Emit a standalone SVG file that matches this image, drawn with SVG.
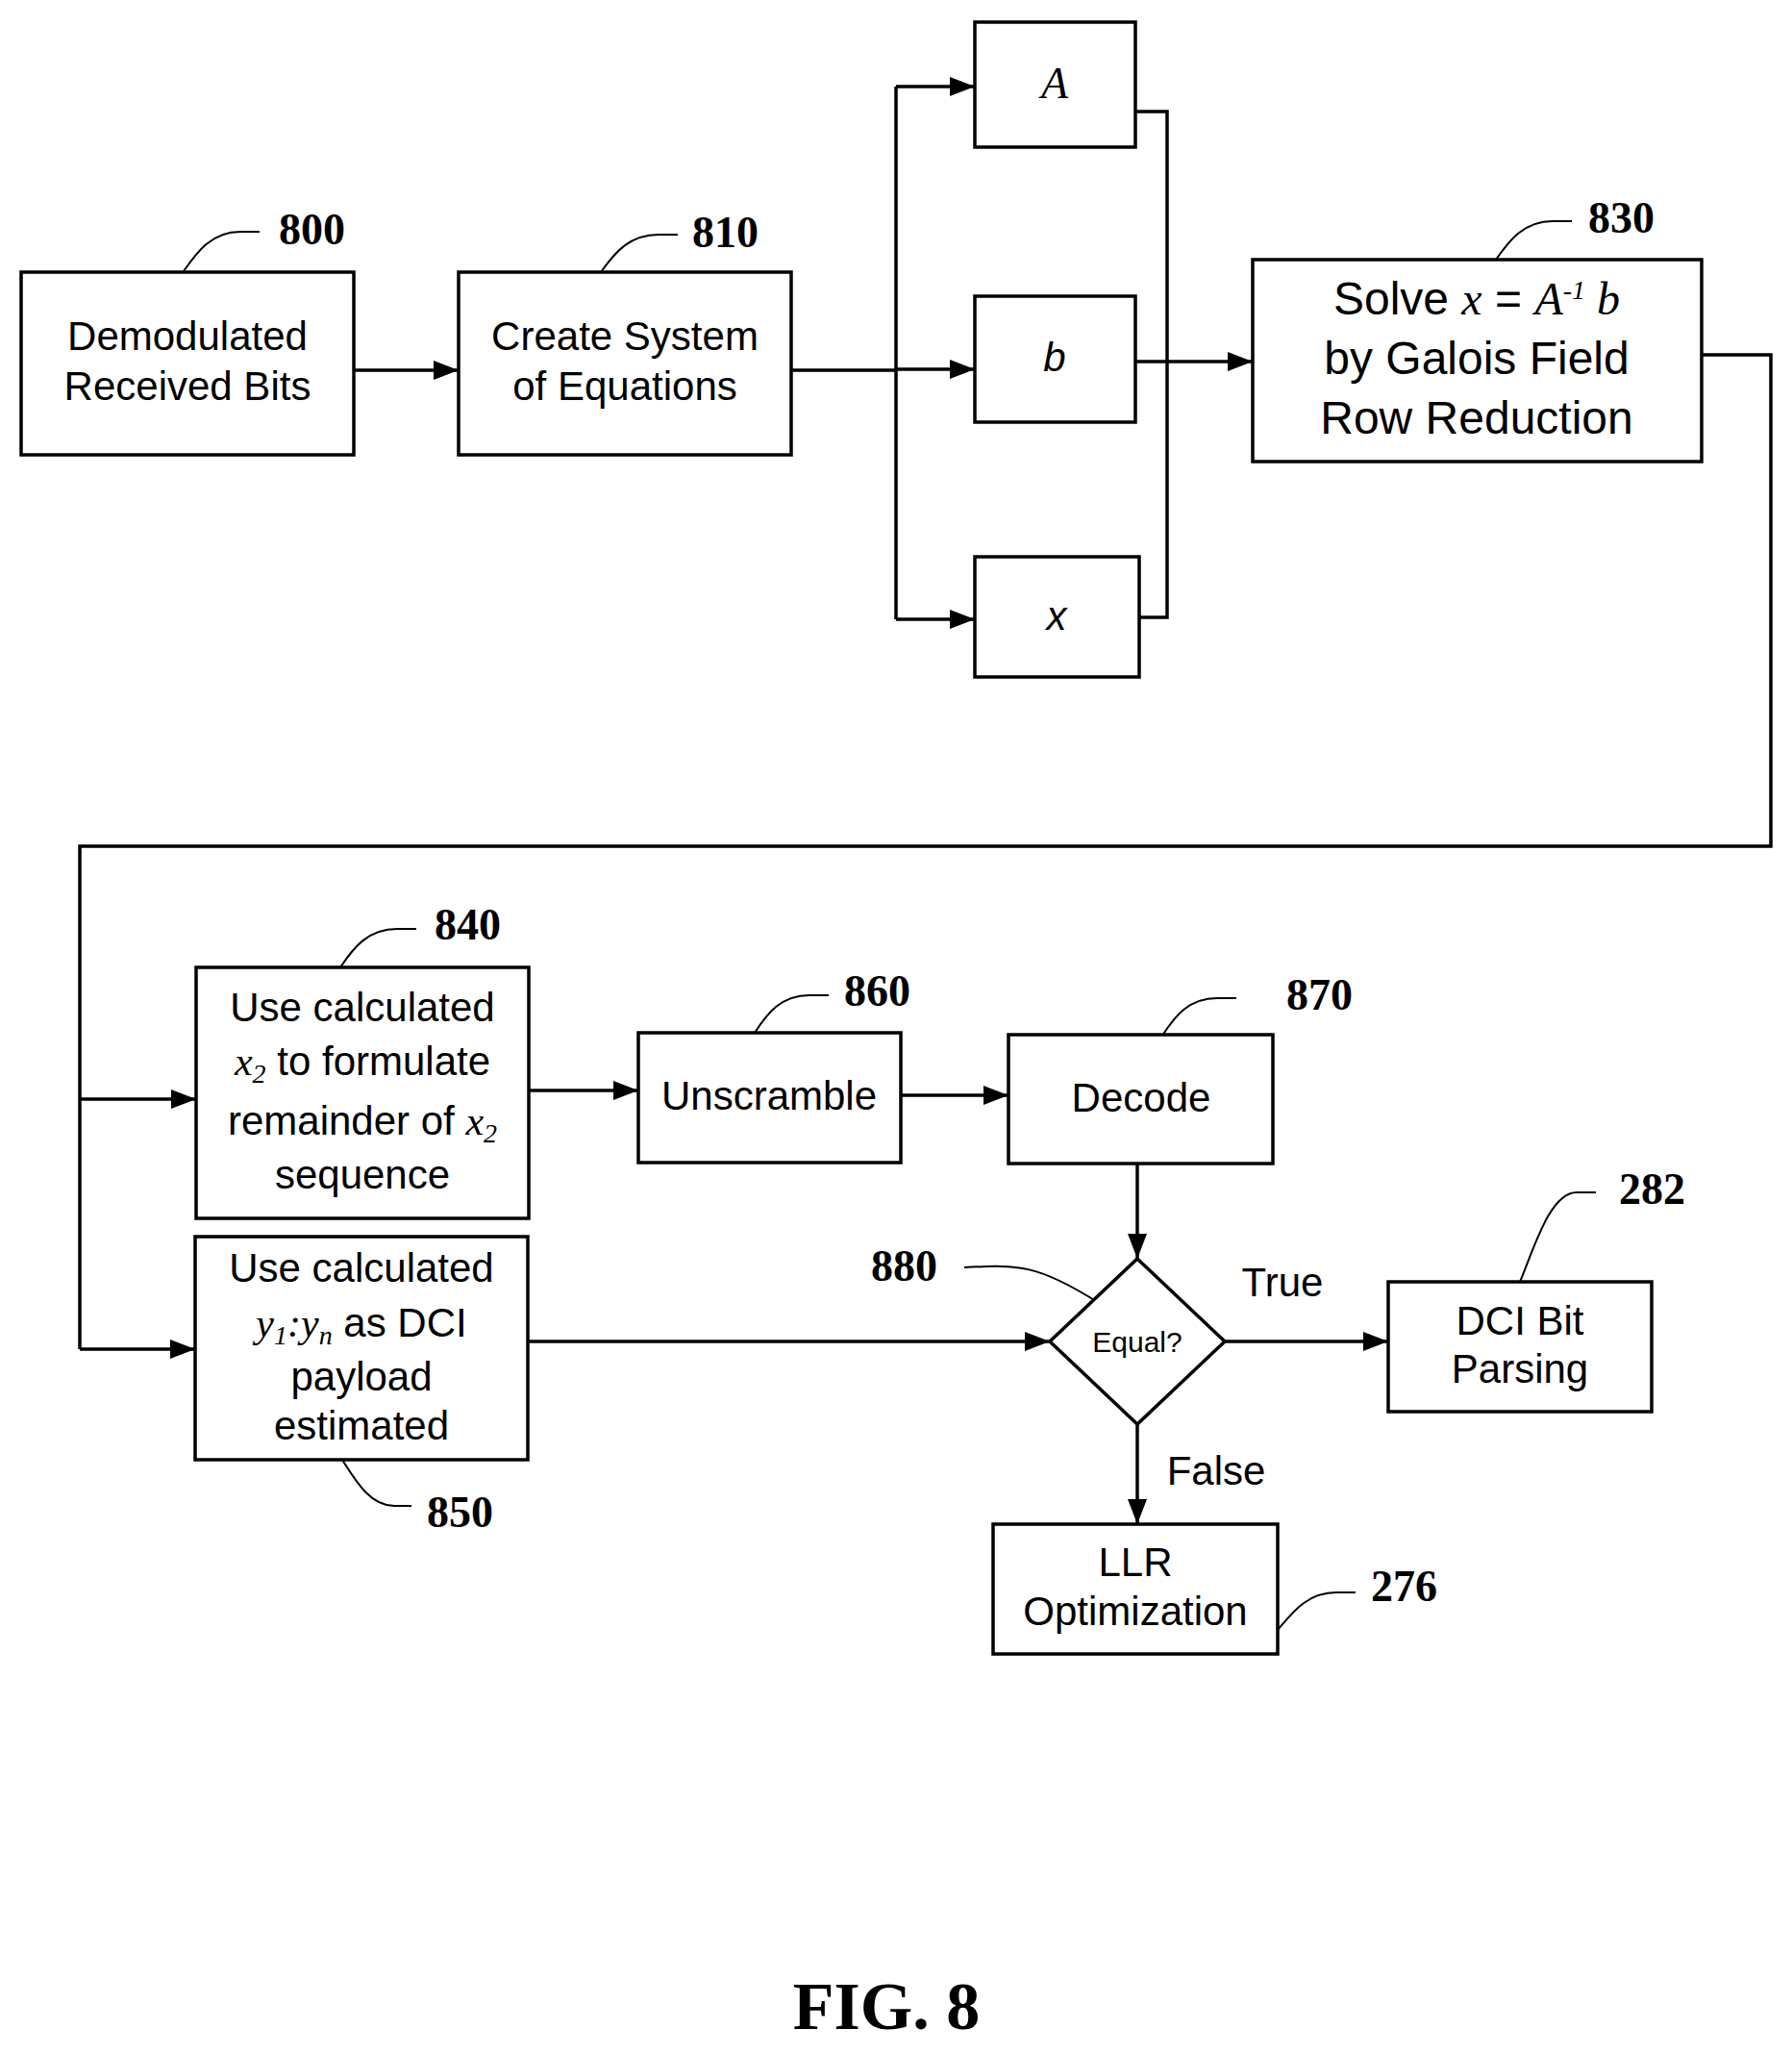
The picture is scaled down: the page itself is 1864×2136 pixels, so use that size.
<svg xmlns="http://www.w3.org/2000/svg" width="1864" height="2136" viewBox="0 0 1864 2136">
<defs>
<marker id="ah" markerWidth="26" markerHeight="20" refX="26" refY="10" orient="auto" markerUnits="userSpaceOnUse" viewBox="0 0 26 20"><path d="M0,0 L26,10 L0,20 z" fill="#000"/></marker>
</defs>
<style>
.b{fill:#fff;stroke:#000;stroke-width:3.5}
.t{font-family:"Liberation Sans",Arial,sans-serif;font-size:42px;text-anchor:middle;fill:#000}
.m{font-family:"Liberation Serif","Times New Roman",serif;font-style:italic}
.n{font-family:"Liberation Serif","Times New Roman",serif;font-weight:bold;font-size:46px;fill:#000}
.c{fill:none;stroke:#000;stroke-width:3.5}
.l{fill:none;stroke:#000;stroke-width:2}
.a{marker-end:url(#ah)}
</style>
<rect width="1864" height="2136" fill="#fff"/>
<g id="connectors">
<path class="c a" d="M368,385 H477"/>
<path class="c" d="M823,385 H932"/>
<path class="c" d="M932,90 V644"/>
<path class="c a" d="M932,90 H1014"/>
<path class="c a" d="M932,384 H1014"/>
<path class="c a" d="M932,644 H1014"/>
<path class="c" d="M1181,116 H1214 V642 H1185"/>
<path class="c a" d="M1181,376 H1303"/>
<path class="c" d="M1770,369 H1842 V880 H83 V1403"/>
<path class="c a" d="M83,1143 H204"/>
<path class="c a" d="M83,1403 H203"/>
<path class="c a" d="M550,1134 H664"/>
<path class="c a" d="M937,1139 H1049"/>
<path class="c a" d="M1183,1210 V1309"/>
<path class="c a" d="M549,1395 H1092"/>
<path class="c a" d="M1274,1395 H1444"/>
<path class="c a" d="M1183,1481 V1585"/>
<path class="l" d="M191,282 C205,262 220,241 250,241 H270"/>
<path class="l" d="M625,283 C640,262 655,244 685,244 H705"/>
<path class="l" d="M1556,270 C1570,250 1585,230 1615,230 H1635"/>
<path class="l" d="M354,1006 C368,985 383,966 413,966 H433"/>
<path class="l" d="M785,1074 C798,1054 812,1035 842,1035 H862"/>
<path class="l" d="M1209,1077 C1222,1057 1236,1038 1266,1038 H1286"/>
<path class="l" d="M1581,1333 C1595,1300 1612,1240 1640,1240 H1660"/>
<path class="l" d="M1003,1318 C1060,1315 1080,1315 1143,1355"/>
<path class="l" d="M356,1518 C370,1540 385,1566 410,1566 H428"/>
<path class="l" d="M1329,1695 C1345,1676 1360,1656 1390,1656 H1410"/>
</g>
<g id="n800"><rect class="b" x="22" y="283" width="346" height="190"/><text class="t" x="195" y="364">Demodulated</text><text class="t" x="195" y="416">Received Bits</text><text class="n" x="290" y="254">800</text></g>
<g id="n810"><rect class="b" x="477" y="283" width="346" height="190"/><text class="t" x="650" y="364">Create System</text><text class="t" x="650" y="416">of Equations</text><text class="n" x="720" y="257">810</text></g>
<g id="nA"><rect class="b" x="1014" y="23" width="167" height="130"/><text class="t m" x="1097" y="102" style="font-size:46px">A</text></g>
<g id="nb"><rect class="b" x="1014" y="308" width="167" height="131"/><text class="t" x="1097" y="386" style="font-style:italic">b</text></g>
<g id="nx"><rect class="b" x="1014" y="579" width="171" height="125"/><text class="t" x="1099" y="655" style="font-style:italic">x</text></g>
<g id="n830"><rect class="b" x="1303" y="270" width="467" height="210"/><text class="t" x="1536" y="327" style="font-size:48px">Solve <tspan class="m">x</tspan> = <tspan class="m">A</tspan><tspan class="m" dy="-16" style="font-size:28px">-1</tspan><tspan class="m" dy="16"> b</tspan></text><text class="t" x="1536" y="389" style="font-size:48px">by Galois Field</text><text class="t" x="1536" y="451" style="font-size:48px">Row Reduction</text><text class="n" x="1652" y="242">830</text></g>
<g id="n840"><rect class="b" x="204" y="1006" width="346" height="261"/><text class="t" x="377" y="1062">Use calculated</text><text class="t" x="377" y="1118"><tspan class="m">x</tspan><tspan class="m" dy="8" style="font-size:28px">2</tspan><tspan dy="-8"> to formulate</tspan></text><text class="t" x="377" y="1180">remainder of <tspan class="m">x</tspan><tspan class="m" dy="8" style="font-size:28px">2</tspan></text><text class="t" x="377" y="1236">sequence</text><text class="n" x="452" y="977">840</text></g>
<g id="n850"><rect class="b" x="203" y="1286" width="346" height="232"/><text class="t" x="376" y="1333">Use calculated</text><text class="t" x="376" y="1390"><tspan class="m">y</tspan><tspan class="m" dy="8" style="font-size:28px">1</tspan><tspan class="m" dy="-8">:y</tspan><tspan class="m" dy="8" style="font-size:28px">n</tspan><tspan dy="-8"> as DCI</tspan></text><text class="t" x="376" y="1446">payload</text><text class="t" x="376" y="1497">estimated</text><text class="n" x="444" y="1588">850</text></g>
<g id="n860"><rect class="b" x="664" y="1074" width="273" height="135"/><text class="t" x="800" y="1154">Unscramble</text><text class="n" x="878" y="1046">860</text></g>
<g id="n870"><rect class="b" x="1049" y="1076" width="275" height="134"/><text class="t" x="1187" y="1156">Decode</text><text class="n" x="1338" y="1050">870</text></g>
<g id="n880"><path class="b" d="M1183,1309 L1274,1395 L1183,1481 L1092,1395 Z"/><text class="t" x="1183" y="1406" style="font-size:30px">Equal?</text><text class="n" x="906" y="1332">880</text><text class="t" x="1334" y="1348">True</text><text class="t" x="1265" y="1544">False</text></g>
<g id="n282"><rect class="b" x="1444" y="1333" width="274" height="135"/><text class="t" x="1581" y="1388">DCI Bit</text><text class="t" x="1581" y="1438">Parsing</text><text class="n" x="1684" y="1252">282</text></g>
<g id="n276"><rect class="b" x="1033" y="1585" width="296" height="135"/><text class="t" x="1181" y="1639">LLR</text><text class="t" x="1181" y="1690">Optimization</text><text class="n" x="1426" y="1665">276</text></g>
<text x="922" y="2110" style="font-family:'Liberation Serif',serif;font-weight:bold;font-size:70px;text-anchor:middle">FIG. 8</text>
</svg>
